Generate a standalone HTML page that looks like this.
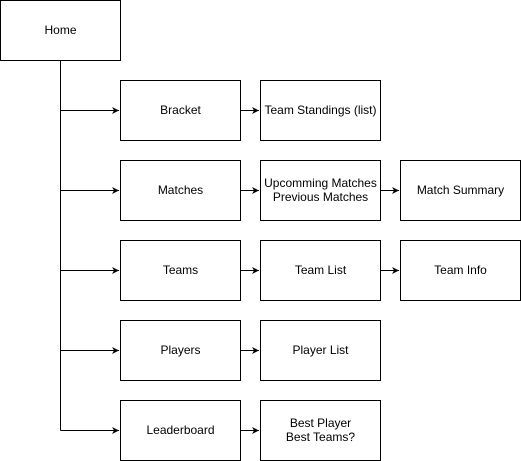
<!DOCTYPE html>
<html><head><style>body{margin:0;background:#fff}svg{display:block}text{font-family:"Liberation Sans",sans-serif;font-size:12px;fill:#000}</style></head><body>
<svg width="521" height="461" xmlns="http://www.w3.org/2000/svg">
<defs><marker id="a" markerWidth="8" markerHeight="8" refX="7" refY="4" orient="auto" markerUnits="userSpaceOnUse"><path d="M0,0.5 L7,4 L0,7.5 L2,4 Z" fill="#000"/></marker></defs>
<g fill="#fff" stroke="#000" stroke-width="1">
<rect x="0.5" y="0.5" width="120" height="60"/>
<rect x="120.5" y="80.5" width="120" height="60"/><rect x="260.5" y="80.5" width="120" height="60"/>
<rect x="120.5" y="160.5" width="120" height="60"/><rect x="260.5" y="160.5" width="120" height="60"/><rect x="400.5" y="160.5" width="120" height="60"/>
<rect x="120.5" y="240.5" width="120" height="60"/><rect x="260.5" y="240.5" width="120" height="60"/><rect x="400.5" y="240.5" width="120" height="60"/>
<rect x="120.5" y="320.5" width="120" height="60"/><rect x="260.5" y="320.5" width="120" height="60"/>
<rect x="120.5" y="400.5" width="120" height="60"/><rect x="260.5" y="400.5" width="120" height="60"/>
</g>
<g stroke="#000" fill="none">
<path d="M60.5,60.5 V430.5"/>
<path d="M60.5,110.5 H119" marker-end="url(#a)"/><path d="M60.5,190.5 H119" marker-end="url(#a)"/><path d="M60.5,270.5 H119" marker-end="url(#a)"/><path d="M60.5,350.5 H119" marker-end="url(#a)"/><path d="M60.5,430.5 H119" marker-end="url(#a)"/>
<path d="M240.5,110.5 H259" marker-end="url(#a)"/><path d="M240.5,190.5 H259" marker-end="url(#a)"/><path d="M240.5,270.5 H259" marker-end="url(#a)"/><path d="M240.5,350.5 H259" marker-end="url(#a)"/><path d="M240.5,430.5 H259" marker-end="url(#a)"/>
<path d="M380.5,190.5 H399" marker-end="url(#a)"/><path d="M380.5,270.5 H399" marker-end="url(#a)"/>
</g>
<g text-anchor="middle">
<text x="60.5" y="34">Home</text>
<text x="180.5" y="114">Bracket</text><text x="320.5" y="114">Team Standings (list)</text>
<text x="180.5" y="194">Matches</text><text x="320.5" y="187">Upcomming Matches</text><text x="320.5" y="201">Previous Matches</text><text x="460.5" y="194">Match Summary</text>
<text x="180.5" y="274">Teams</text><text x="320.5" y="274">Team List</text><text x="460.5" y="274">Team Info</text>
<text x="180.5" y="354">Players</text><text x="320.5" y="354">Player List</text>
<text x="180.5" y="434">Leaderboard</text><text x="320.5" y="427">Best Player</text><text x="320.5" y="441">Best Teams?</text>
</g>
</svg>
</body></html>
